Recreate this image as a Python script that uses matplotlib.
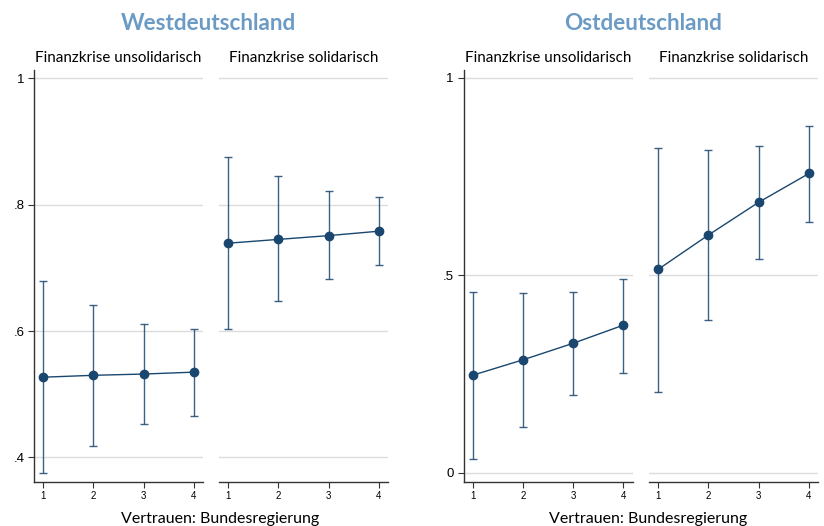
import matplotlib
matplotlib.use("Agg")
import matplotlib.pyplot as plt

plt.rcParams['font.family'] = ['Lato', 'DejaVu Sans']

trust = [1, 2, 3, 4]
trust_labels = ["1", "2", "3", "4"]
panel_titles = ["Finanzkrise unsolidarisch", "Finanzkrise solidarisch"]
region_titles = ["Westdeutschland", "Ostdeutschland"]

# Westdeutschland
west_unsol = [0.527, 0.530, 0.532, 0.535]
west_unsol_lo = [0.376, 0.418, 0.453, 0.466]
west_unsol_hi = [0.679, 0.642, 0.611, 0.604]
west_sol = [0.739, 0.745, 0.751, 0.758]
west_sol_lo = [0.603, 0.647, 0.683, 0.704]
west_sol_hi = [0.875, 0.845, 0.821, 0.812]

# Ostdeutschland
ost_unsol = [0.247, 0.286, 0.328, 0.374]
ost_unsol_lo = [0.034, 0.116, 0.198, 0.253]
ost_unsol_hi = [0.459, 0.455, 0.459, 0.492]
ost_sol = [0.515, 0.602, 0.685, 0.758]
ost_sol_lo = [0.204, 0.388, 0.541, 0.635]
ost_sol_hi = [0.823, 0.817, 0.828, 0.879]

west_ticks = [0.4, 0.6, 0.8, 1.0]
west_ticklabels = [".4", ".6", ".8", "1"]
ost_ticks = [0, 0.5, 1.0]
ost_ticklabels = ["0", ".5", "1"]

navy = "#1a476f"
grid = "#dcdcdc"
spine = "#333333"
title_col = "#6b9bc4"

W, H = 824, 526
fig = plt.figure(figsize=(W / 100, H / 100), dpi=100)


def px_axes(x0, x1, y0, y1):
    return fig.add_axes([x0 / W, 1 - y1 / H, (x1 - x0) / W, (y1 - y0) / H])


def panel(ax, mean, lo, hi, ylim, ticks, ticklabels, first, title):
    err = [[m - l for m, l in zip(mean, lo)], [h - m for m, h in zip(mean, hi)]]
    ax.errorbar(trust, mean, yerr=err, fmt='none', ecolor=navy, elinewidth=1.0,
                capsize=3, capthick=1.0, alpha=0.85, zorder=3)
    ax.plot(trust, mean, '-', color=navy, lw=1.0, zorder=4)
    ax.plot(trust, mean, 'o', color=navy, ms=6, zorder=5)
    ax.set_xlim(0.82, 4.18)
    ax.set_ylim(*ylim)
    ax.set_yticks(ticks)
    for t in ticks:
        ax.axhline(t, color=grid, lw=1.0, zorder=1)
    ax.set_xticks(trust)
    ax.set_xticklabels(trust_labels, fontsize=7, family=['Liberation Sans'])
    ax.tick_params(axis='x', length=4, width=0.8, color=spine, pad=3)
    for s in ['top', 'right']:
        ax.spines[s].set_visible(False)
    ax.spines['bottom'].set_color(spine)
    ax.spines['bottom'].set_linewidth(1.0)
    if first:
        ax.spines['left'].set_color(spine)
        ax.spines['left'].set_linewidth(1.0)
        ax.set_yticklabels(ticklabels, fontsize=9.5, family=['Liberation Sans'])
        ax.tick_params(axis='y', length=4, width=0.8, color=spine, pad=3)
    else:
        ax.spines['left'].set_visible(False)
        ax.tick_params(axis='y', left=False, labelleft=False)
    ax.set_title(title, fontsize=10.9, pad=6)


top, bottom = 70, 481.5
west_ylim = (0.362, 1.013)
ost_ylim = (-0.022, 1.020)

a1 = px_axes(34, 203, top, bottom)
panel(a1, west_unsol, west_unsol_lo, west_unsol_hi, west_ylim, west_ticks, west_ticklabels, True, panel_titles[0])
a2 = px_axes(219, 388, top, bottom)
panel(a2, west_sol, west_sol_lo, west_sol_hi, west_ylim, west_ticks, west_ticklabels, False, panel_titles[1])
a3 = px_axes(463.5, 632.5, top, bottom)
panel(a3, ost_unsol, ost_unsol_lo, ost_unsol_hi, ost_ylim, ost_ticks, ost_ticklabels, True, panel_titles[0])
a4 = px_axes(649, 818, top, bottom)
panel(a4, ost_sol, ost_sol_lo, ost_sol_hi, ost_ylim, ost_ticks, ost_ticklabels, False, panel_titles[1])

fig.text(208 / W, 1 - 23 / H, region_titles[0], ha='center', va='center',
         fontsize=16.2, fontweight='bold', color=title_col)
fig.text(643.5 / W, 1 - 23 / H, region_titles[1], ha='center', va='center',
         fontsize=16.2, fontweight='bold', color=title_col)
fig.text(220 / W, 1 - 519 / H, "Vertrauen: Bundesregierung", ha='center', va='center', fontsize=11.5)
fig.text(648 / W, 1 - 519 / H, "Vertrauen: Bundesregierung", ha='center', va='center', fontsize=11.5)

fig.savefig("out.png", dpi=100)
